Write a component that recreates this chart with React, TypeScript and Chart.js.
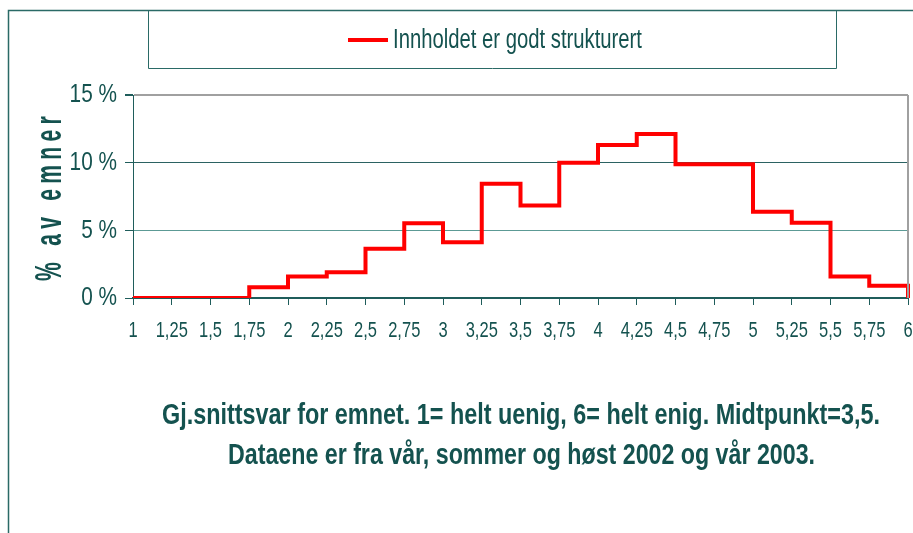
import React, { useEffect, useRef } from "react";
import { Chart, registerables } from "chart.js";

Chart.register(...registerables);

const xLabels = ["1", "1,25", "1,5", "1,75", "2", "2,25", "2,5", "2,75", "3", "3,25", "3,5", "3,75", "4", "4,25", "4,5", "4,75", "5", "5,25", "5,5", "5,75", "6"];
const seriesValues = [0, 0, 0, 0.79, 1.58, 1.9, 3.63, 5.53, 4.12, 8.44, 6.84, 10.0, 11.3, 12.12, 9.88, 9.88, 6.37, 5.56, 1.58, 0.91, 0];
const seriesName = "Innholdet er godt strukturert";
const yAxisTitle = "% av emner";
const noteLines = [
  "Gj.snittsvar for emnet. 1= helt uenig, 6= helt enig. Midtpunkt=3,5.",
  "Dataene er fra vår, sommer og høst 2002 og vår 2003.",
];

const TEAL = "#14524f";
const FAMILY = "'Liberation Sans', Arial, sans-serif";

function fitText(ctx: CanvasRenderingContext2D, text: string, left: number, y: number, width: number, font: string, spacing = "0px", baseline: CanvasTextBaseline = "middle") {
  ctx.save();
  ctx.font = font;
  (ctx as any).letterSpacing = spacing;
  ctx.textAlign = "left";
  ctx.textBaseline = baseline;
  const w = ctx.measureText(text).width;
  ctx.translate(left, y);
  ctx.scale(width / w, 1);
  ctx.fillText(text, 0, 0);
  ctx.restore();
}

function squeezeText(ctx: CanvasRenderingContext2D, text: string, x: number, y: number, sx: number, font: string, align: CanvasTextAlign) {
  ctx.save();
  ctx.font = font;
  ctx.textAlign = align;
  ctx.textBaseline = "middle";
  ctx.translate(x, y);
  ctx.scale(sx, 1);
  ctx.fillText(text, 0, 0);
  ctx.restore();
}

const decorPlugin = {
  id: "decor",
  beforeDraw(chart: any) {
    const ctx = chart.ctx;
    ctx.save();
    ctx.fillStyle = "#ffffff";
    ctx.fillRect(0, 0, chart.width, chart.height);
    ctx.restore();
  },
  afterDraw(chart: any) {
    const ctx: CanvasRenderingContext2D = chart.ctx;
    const area = chart.chartArea;
    ctx.save();
    // right border of the plot area
    ctx.strokeStyle = "#a0a0a0";
    ctx.lineWidth = 2;
    ctx.beginPath();
    ctx.moveTo(area.right, area.top);
    ctx.lineTo(area.right, area.bottom);
    ctx.stroke();
    // outer frame
    ctx.strokeStyle = "#2a6a66";
    ctx.lineWidth = 1.5;
    ctx.beginPath();
    ctx.moveTo(8.5, chart.height);
    ctx.lineTo(8.5, 10.5);
    ctx.lineTo(chart.width, 10.5);
    ctx.stroke();
    // legend box
    ctx.lineWidth = 1;
    ctx.beginPath();
    ctx.moveTo(148.5, 10.5);
    ctx.lineTo(148.5, 68.5);
    ctx.lineTo(836.5, 68.5);
    ctx.lineTo(836.5, 10.5);
    ctx.stroke();
    ctx.strokeStyle = "#ff0000";
    ctx.lineWidth = 4;
    ctx.beginPath();
    ctx.moveTo(348, 40);
    ctx.lineTo(388, 40);
    ctx.stroke();
    ctx.fillStyle = TEAL;
    fitText(ctx, seriesName, 393, 48, 249, `27px ${FAMILY}`, "0px", "alphabetic");
    // tick labels, placed by the chart's scales
    const xs = chart.scales.x;
    xs.ticks.forEach((t: any, i: number) => {
      const px = xs.getPixelForTick(i);
      squeezeText(ctx, String(xLabels[t.value] ?? t.label), px, 331, 0.75, `22px ${FAMILY}`, "center");
    });
    const ys = chart.scales.y;
    ys.ticks.forEach((t: any, i: number) => {
      const py = ys.getPixelForTick(i);
      squeezeText(ctx, `${t.value} %`, 117, py, 0.8, `26px ${FAMILY}`, "right");
    });
    // y axis title
    ctx.save();
    ctx.translate(51, 281);
    ctx.rotate(-Math.PI / 2);
    fitText(ctx, yAxisTitle, 0, 0, 170, `bold 36px ${FAMILY}`, "9px");
    ctx.restore();
    // notes under the chart
    fitText(ctx, noteLines[0], 162, 416, 718, `bold 29px ${FAMILY}`);
    fitText(ctx, noteLines[1], 228, 456, 587, `bold 29px ${FAMILY}`);
    ctx.restore();
  },
};

export default function App() {
  const ref = useRef<HTMLCanvasElement | null>(null);
  useEffect(() => {
    if (!ref.current) return;
    const chart = new Chart(ref.current, {
      type: "line",
      data: {
        labels: xLabels,
        datasets: [
          {
            label: seriesName,
            data: seriesValues,
            borderColor: "#ff0000",
            backgroundColor: "#ff0000",
            borderWidth: 4,
            stepped: true,
            pointRadius: 0,
            fill: false,
          },
        ],
      },
      options: {
        animation: false,
        responsive: false,
        devicePixelRatio: 1,
        layout: { padding: { left: 0, top: 95, right: 5, bottom: 195 } },
        plugins: { legend: { display: false }, tooltip: { enabled: false }, title: { display: false } },
        scales: {
          x: {
            type: "category",
            offset: false,
            grid: { drawOnChartArea: false, drawTicks: true, tickLength: 7, color: "#1f5d5b", tickColor: "#1f5d5b" },
            border: { color: "#1f5d5b", width: 2 },
            ticks: { display: false, autoSkip: false, maxRotation: 0 },
            afterFit(s: any) {
              s.height = 40;
              s.paddingLeft = 0;
              s.paddingRight = 0;
            },
          },
          y: {
            min: 0,
            max: 15,
            grid: {
              color: (c: any) => {
                const v = c.tick ? c.tick.value : 0;
                if (v === 15) return "#a0a0a0";
                if (v === 10) return "#2b6262";
                if (v === 5) return "#5c9a95";
                return "#1f5d5b";
              },
              lineWidth: (c: any) => (c.tick && c.tick.value === 15 ? 2 : 1),
              tickColor: "#1f5d5b",
              tickLength: 8,
            },
            border: { color: "#1f5d5b", width: 1 },
            ticks: { display: false, stepSize: 5 },
            afterFit(s: any) {
              s.width = 133;
              s.paddingTop = 0;
              s.paddingBottom = 0;
            },
          },
        },
      },
      plugins: [decorPlugin],
    } as any);
    return () => chart.destroy();
  }, []);
  return (
    <div style={{ position: "fixed", left: 0, top: 0, width: 913, height: 533 }}>
      <canvas ref={ref} width={913} height={533} style={{ display: "block" }} />
    </div>
  );
}
